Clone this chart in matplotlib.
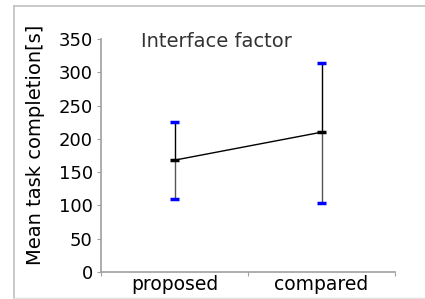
import matplotlib
matplotlib.use("Agg")
import matplotlib.pyplot as plt

categories = ["proposed", "compared"]
means = [168, 210]
upper = [225, 314]
lower = [109, 104]
yticks = [0, 50, 100, 150, 200, 250, 300, 350]

fig = plt.figure(figsize=(4.25, 2.99), dpi=100)
fig.patch.set_facecolor("white")
# outer frame
fig.add_artist(plt.Line2D([14/425, 14/425], [0.003, 1-6/299], transform=fig.transFigure, color="#c0c0c0", lw=1.2))
fig.add_artist(plt.Line2D([14/425, 1.0], [1-6/299, 1-6/299], transform=fig.transFigure, color="#c0c0c0", lw=1.2))
fig.add_artist(plt.Line2D([14/425, 1.0], [0.003, 0.003], transform=fig.transFigure, color="#e0e0e0", lw=1.0))

ax = fig.add_axes([101/425, 1-272/299, 294/425, (272-39)/299])
xs = [0.5, 1.5]
ax.plot(xs, means, color="black", lw=1.0, zorder=2)
for x, m, u, l in zip(xs, means, upper, lower):
    ax.plot([x, x], [m, u], color="black", lw=1.0, zorder=2)
    ax.plot([x, x], [l, m], color="#555555", lw=1.0, zorder=2)
    ax.plot([x - 0.03, x + 0.03], [u, u], color="#0000ff", lw=2.5, solid_capstyle="butt", zorder=3)
    ax.plot([x - 0.03, x + 0.03], [l, l], color="#0000ff", lw=2.5, solid_capstyle="butt", zorder=3)
    ax.plot([x - 0.03, x + 0.03], [m, m], color="black", lw=2.5, solid_capstyle="butt", zorder=3)

ax.set_xlim(0, 2)
ax.set_ylim(0, 350)
ax.set_yticks(yticks)
ax.set_yticklabels([str(v) for v in yticks], fontsize=13)
ax.set_xticks([0, 1, 2])
ax.set_xticklabels([])
ax.set_xticks(xs, minor=True)
ax.set_xticklabels(categories, minor=True, fontsize=13.5)
ax.tick_params(axis="x", which="minor", length=0, pad=2)
ax.tick_params(axis="x", which="major", length=3, color="#a0a0a0")
ax.tick_params(axis="y", length=3, color="#a0a0a0", pad=3)
for s in ["top", "right"]:
    ax.spines[s].set_visible(False)
for s in ["left", "bottom"]:
    ax.spines[s].set_color("#a0a0a0")
    ax.spines[s].set_linewidth(1.2)
ax.set_ylabel("Mean task completion[s]", fontsize=14)
ax.yaxis.set_label_coords(-0.19, 0.545)
ax.text(0.27, 361, "Interface factor", fontsize=14, color="#333333", va="top", ha="left")

fig.savefig("out.png", dpi=100)
